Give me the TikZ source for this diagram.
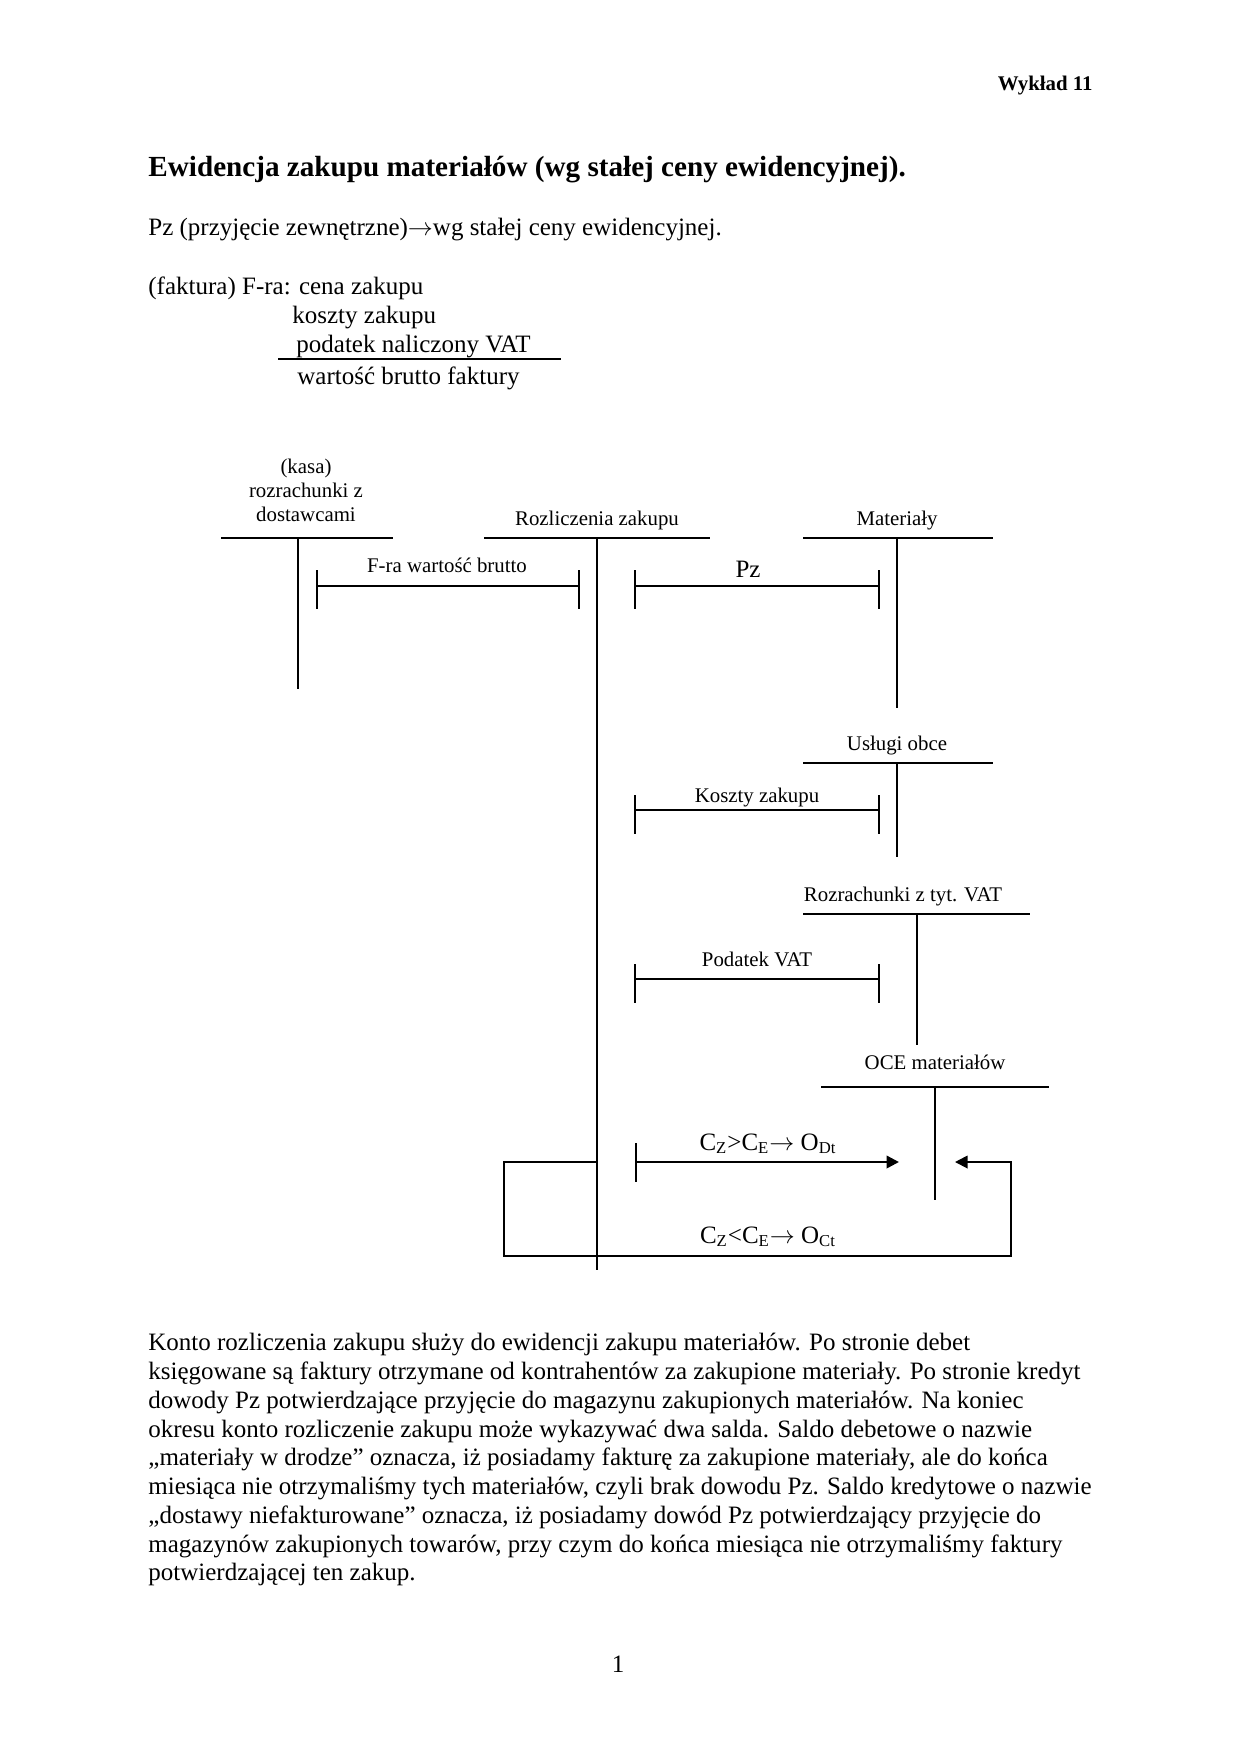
\documentclass[tikz,border=0pt]{standalone}
\usepackage{fontspec}
\setmainfont{Liberation Serif}
\usepackage{tikz}
\usetikzlibrary{arrows.meta, positioning}
\tikzstyle{konto} = [line width=1.4pt]
\tikzstyle{zapis} = [line width=1.2pt]
\tikzstyle{petla} = [line width=0.9pt]
\tikzstyle{nazwa} = [font=\fontsize{10}{11.5}\selectfont, inner sep=0pt, align=center]
\tikzstyle{opis} = [font=\fontsize{12}{13.8}\selectfont, inner sep=0pt]
\tikzstyle{strzalka} = [-{Triangle[length=6pt,width=6pt]}]

\begin{document}
\begin{tikzpicture}[x=0.48pt, y=-0.48pt]
            \useasboundingbox (0,0) rectangle (1240,1754);

            % Text
            \node (wyklad) [anchor=base east, inner sep=0pt, font=\fontsize{10}{12}\selectfont\bfseries] at (1093,90) {Wykład 11};
            \node (tytul) [anchor=base west, inner sep=0pt, font=\fontsize{14}{16}\selectfont\bfseries] at (148,176) {Ewidencja zakupu materiałów (wg stałej ceny ewidencyjnej).};
            \node (pz) [opis, anchor=base west] at (148,235) {Pz (przyjęcie zewnętrzne)$\rightarrow$wg stałej ceny ewidencyjnej.};
            \node (faktura) [opis, anchor=base west] at (148,294) {(faktura) F-ra: cena zakupu};
            \node (koszty) [opis, anchor=base west] at (292,323) {koszty zakupu};
            \node (podatek) [opis, anchor=base west] at (296,352) {podatek naliczony VAT};
            \node (brutto) [opis, anchor=base west] at (297,384) {wartość brutto faktury};
            \coordinate (kreskaL) at (278,359);
            \coordinate (kreskaR) at (561,359);
            \draw [line width=1.2pt] (kreskaL) -- (kreskaR);

            % Accounts
            \coordinate (kasaL) at (221,538);  \coordinate (kasaR) at (393,538);
            \coordinate (kasaG) at (298,538);  \coordinate (kasaD) at (298,689);
            \coordinate (rozlL) at (484,538);  \coordinate (rozlR) at (710,538);
            \coordinate (rozlG) at (597,538);  \coordinate (rozlD) at (597,1270);
            \coordinate (matL) at (803,538);   \coordinate (matR) at (993,538);
            \coordinate (matG) at (897,538);   \coordinate (matD) at (897,708);
            \coordinate (uslL) at (803,763);   \coordinate (uslR) at (993,763);
            \coordinate (uslG) at (897,763);   \coordinate (uslD) at (897,857);
            \coordinate (vatL) at (803,914);   \coordinate (vatR) at (1030,914);
            \coordinate (vatG) at (917,914);   \coordinate (vatD) at (917,1045);
            \coordinate (oceL) at (821,1087);  \coordinate (oceR) at (1049,1087);
            \coordinate (oceG) at (935,1087);  \coordinate (oceD) at (935,1200);

            \node (kasa) [nazwa, anchor=south] at (306,522) {(kasa)\\rozrachunki z\\dostawcami};
            \node (rozl) [nazwa, anchor=base] at (597,525) {Rozliczenia zakupu};
            \node (mat) [nazwa, anchor=base] at (897,525) {Materiały};
            \node (usl) [nazwa, anchor=base] at (897,750) {Usługi obce};
            \node (vat) [nazwa, anchor=base] at (903,901) {Rozrachunki z tyt. VAT};
            \node (oce) [nazwa, anchor=base] at (935,1069) {OCE materiałów};

            \draw [konto] (kasaL) -- (kasaR);
            \draw [konto] (kasaG) -- (kasaD);
            \draw [konto] (rozlL) -- (rozlR);
            \draw [konto] (rozlG) -- (rozlD);
            \draw [konto] (matL) -- (matR);
            \draw [konto] (matG) -- (matD);
            \draw [konto] (uslL) -- (uslR);
            \draw [konto] (uslG) -- (uslD);
            \draw [konto] (vatL) -- (vatR);
            \draw [konto] (vatG) -- (vatD);
            \draw [konto] (oceL) -- (oceR);
            \draw [konto] (oceG) -- (oceD);

            % Entries
            \coordinate (fraL) at (317,586);   \coordinate (fraR) at (579,586);
            \coordinate (pzL) at (635,586);    \coordinate (pzR) at (879,586);
            \coordinate (kzL) at (635,810);    \coordinate (kzR) at (879,810);
            \coordinate (pvL) at (635,979);    \coordinate (pvR) at (879,979);
            \coordinate (odtL) at (636,1162);  \coordinate (odtR) at (899,1162);
            \coordinate (octA) at (597,1162);  \coordinate (octB) at (504,1256);
            \coordinate (octC) at (1011,1256); \coordinate (octD) at (955,1162);

            \node (fra) [nazwa, anchor=base] at (447,572) {F-ra wartość brutto};
            \node (pzz) [opis, anchor=base] at (748,577) {Pz};
            \node (kz) [nazwa, anchor=base] at (757,802) {Koszty zakupu};
            \node (pv) [nazwa, anchor=base] at (757,966) {Podatek VAT};
            \node (odt) [opis, anchor=base] at (768,1150) {C\textsubscript{Z}>C\textsubscript{E}$\rightarrow$ O\textsubscript{Dt}};
            \node (oct) [opis, anchor=base] at (768,1243) {C\textsubscript{Z}<C\textsubscript{E}$\rightarrow$ O\textsubscript{Ct}};

            \draw [zapis] (fraL) -- (fraR);
            \draw [zapis] (fraL) ++(0,-16) -- ++(0,39);
            \draw [zapis] (fraR) ++(0,-16) -- ++(0,39);
            \draw [zapis] (pzL) -- (pzR);
            \draw [zapis] (pzL) ++(0,-16) -- ++(0,39);
            \draw [zapis] (pzR) ++(0,-16) -- ++(0,39);
            \draw [zapis] (kzL) -- (kzR);
            \draw [zapis] (kzL) ++(0,-15) -- ++(0,39);
            \draw [zapis] (kzR) ++(0,-15) -- ++(0,39);
            \draw [zapis] (pvL) -- (pvR);
            \draw [zapis] (pvL) ++(0,-15) -- ++(0,39);
            \draw [zapis] (pvR) ++(0,-15) -- ++(0,39);
            \draw [zapis, strzalka] (odtL) -- (odtR);
            \draw [zapis] (odtL) ++(0,-19) -- ++(0,39);
            \draw [petla, strzalka] (octA) -| (octB) -| (octC) |- (octD);

            % Description
            \node (akapit) [opis, anchor=north west, align=left] at (148,1333) {Konto rozliczenia zakupu służy do ewidencji zakupu materiałów. Po stronie debet\\
            księgowane są faktury otrzymane od kontrahentów za zakupione materiały. Po stronie kredyt\\
            dowody Pz potwierdzające przyjęcie do magazynu zakupionych materiałów. Na koniec\\
            okresu konto rozliczenie zakupu może wykazywać dwa salda. Saldo debetowe o nazwie\\
            „materiały w drodze” oznacza, iż posiadamy fakturę za zakupione materiały, ale do końca\\
            miesiąca nie otrzymaliśmy tych materiałów, czyli brak dowodu Pz. Saldo kredytowe o nazwie\\
            „dostawy niefakturowane” oznacza, iż posiadamy dowód Pz potwierdzający przyjęcie do\\
            magazynów zakupionych towarów, przy czym do końca miesiąca nie otrzymaliśmy faktury\\
            potwierdzającej ten zakup.};
            \node (strona) [opis, anchor=base] at (618,1672) {1};
        \end{tikzpicture}
\end{document}
